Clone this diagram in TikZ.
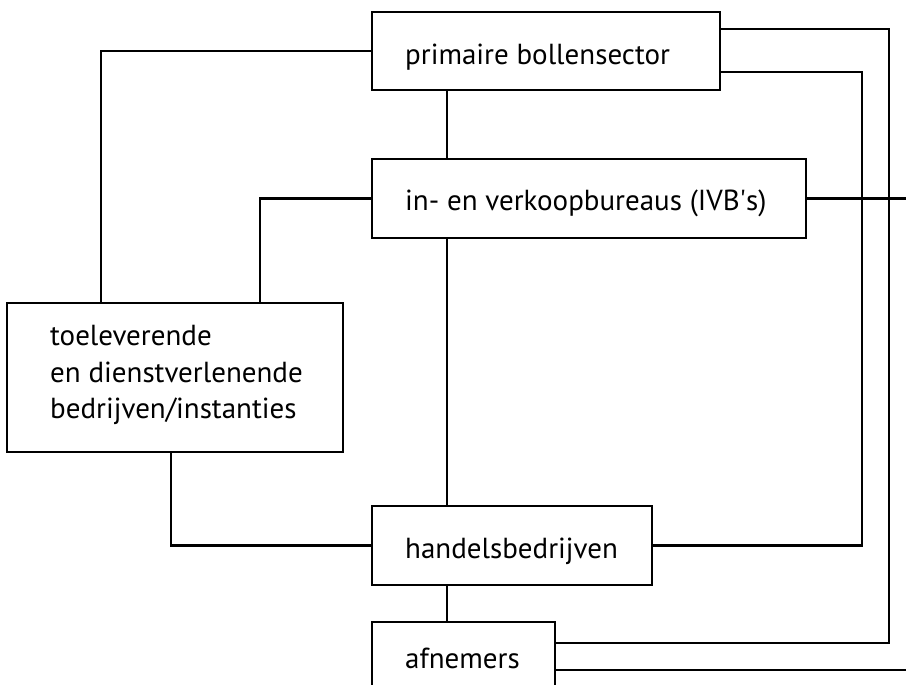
\documentclass[tikz,border=0pt]{standalone}
\usepackage{fontspec}
\setmainfont{PT Sans}
\usetikzlibrary{calc}
\begin{document}
\begin{tikzpicture}[x=1pt,y=-1pt,
  box/.style={draw, line width=2.2pt, rectangle, inner sep=0pt},
  lbl/.style={anchor=base west, inner sep=0pt, font=\fontsize{29}{36.5}\selectfont},
  wire/.style={line width=2.2pt}]
\useasboundingbox (0,0) rectangle (906,685);

% boxes
\node[box, minimum width=348, minimum height=78] (prim)   at (546,51)    {};
\node[box, minimum width=434, minimum height=79] (ivb)    at (589,198.5) {};
\node[box, minimum width=336, minimum height=149] (toel)  at (175,377.5) {};
\node[box, minimum width=280, minimum height=79] (handel) at (512,545.5) {};
\node[box, minimum width=183, minimum height=79] (afn)    at (463.5,661.5) {};

% labels
\node[lbl] (primt)   at (405,65)  {primaire bollensector};
\node[lbl] (ivbt)    at (405,210) {in- en verkoopbureaus (IVB\textquotesingle s)};
\node[lbl] (toelt1)  at (50,345)  {toeleverende};
\node[lbl] (toelt2)  at (50,382)  {en dienstverlenende};
\node[lbl] (toelt3)  at (50,418)  {bedrijven/instanties};
\node[lbl] (handelt) at (405,558) {handelsbedrijven};
\node[lbl] (afnt)    at (405,668) {afnemers};

% guide coordinates
\coordinate (spine) at (447,0);
\coordinate (railA) at (889,0);
\coordinate (railB) at (862,0);
\coordinate (edgeR) at (906,0);
\coordinate (primA) at ($(prim.north east)+(0,18)$);
\coordinate (primB) at ($(prim.north east)+(0,61)$);
\coordinate (afnA)  at ($(afn.north east)+(0,22)$);
\coordinate (afnB)  at ($(afn.north east)+(0,49)$);

% central chain
\draw[wire] (prim.south -| spine) -- (ivb.north -| spine);
\draw[wire] (ivb.south -| spine) -- (handel.north -| spine);
\draw[wire] (handel.south -| spine) -- (afn.north -| spine);

% supplier links
\draw[wire] ($(toel.north west)+(95,0)$) |- (prim.west);
\draw[wire] ($(toel.north west)+(254,0)$) |- (ivb.west);
\draw[wire] ($(toel.south west)+(165,0)$) |- (handel.west);

% right-hand rails
\draw[wire] (primA) -| (railA |- afnA) -- (afnA);
\draw[wire] (primB) -| (railB |- handel.east) -- (handel.east);
\draw[wire] (ivb.east) -- (ivb.east -| edgeR);
\draw[wire] (afnB) -- (afnB -| edgeR);
\end{tikzpicture}
\end{document}
